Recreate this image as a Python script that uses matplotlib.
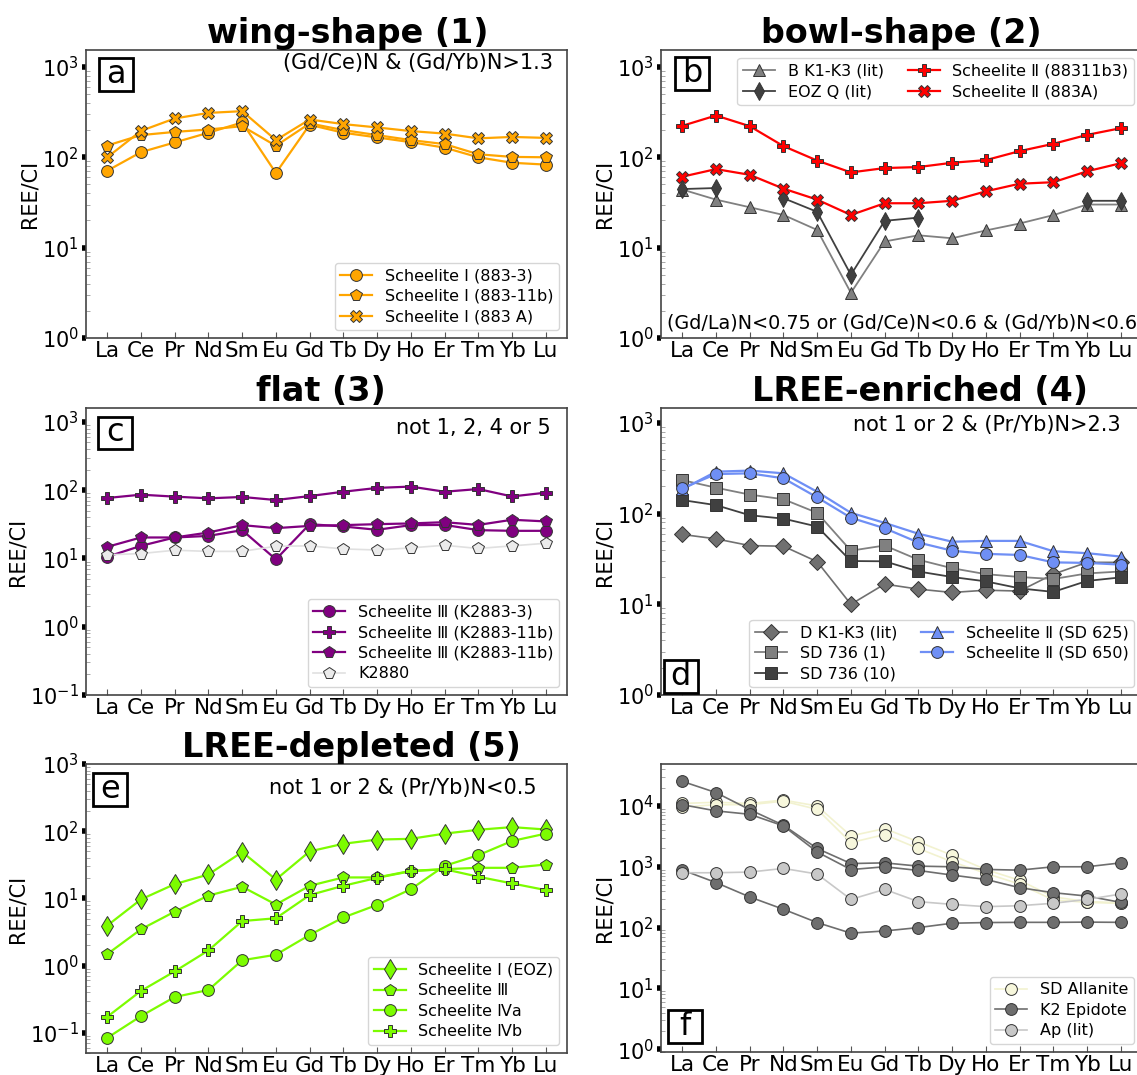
import numpy as np
import matplotlib.pyplot as plt
from matplotlib.patches import Rectangle

nan = np.nan
ree = ['La', 'Ce', 'Pr', 'Nd', 'Sm', 'Eu', 'Gd', 'Tb', 'Dy', 'Ho', 'Er', 'Tm', 'Yb', 'Lu']
x = np.arange(len(ree))

# (a) wing-shape
sch1_883_3 = [71, 114, 146, 187, 243, 67, 229, 187, 166, 147, 128, 100, 87, 83]
sch1_883_11b = [135, 176, 191, 203, 221, 134, 237, 200, 176, 155, 140, 108, 101, 100]
sch1_883A = [100, 196, 269, 310, 324, 155, 262, 233, 214, 195, 183, 162, 168, 164]

# (b) bowl-shape
b_k1k3 = [44, 34, 28, 23, 15.7, 3.16, 11.7, 13.7, 12.7, 15.5, 18.5, 22.9, 30, 30]
eoz_q = [44.5, 45.7, nan, 35.3, 24.9, 5.0, 19.8, 21.5, nan, nan, nan, nan, 33, 33]
sch2_88311b3 = [223, 290, 221, 133, 92, 68, 76, 78, 87, 93, 117, 141, 177, 210]
sch2_883A = [61, 74, 64, 45, 34, 23, 31, 31, 33, 42, 51, 53, 70, 86]

# (c) flat
sch3_k2883_3 = [10.6, 15.3, 20.3, 21.4, 26, 9.7, 31.8, 29.4, 26.3, 30.8, 31, 26, 25.4, 25.4]
sch3_k2883_11b = [76.9, 86, 80.5, 76, 79.6, 71.8, 82, 95, 108, 113, 95, 104, 81, 92]
sch3_k2883_11b_p = [14.8, 20.3, 20.3, 24, 30.8, 27.8, 30, 30.8, 31.8, 32.6, 34, 31, 36.9, 34.9]
k2880 = [11.3, 11.8, 13.2, 12.7, 12.7, 15.1, 15.3, 13.8, 13.3, 14.3, 15.6, 14, 15.3, 16.7]

# (d) LREE-enriched
d_k1k3 = [58.9, 52.7, 44.4, 43.7, 29.5, 10, 16.7, 14.7, 13.5, 14.3, 14, 21.5, 29, 29]
sd736_1 = [234, 193, 162, 144, 102, 39, 44.5, 31, 25, 21.5, 20, 19, 21.9, 23]
sd736_10 = [141, 124, 96, 88, 72, 30, 29.8, 23, 20, 17.9, 15, 13.7, 18.1, 19.8]
sch2_sd625 = [185, 290, 298, 278, 174, 102, 79, 60, 49, 50, 50, 38.5, 36.6, 33.6]
sch2_sd650 = [190, 273, 278, 245, 151, 90, 69, 48, 39, 36, 35, 29, 28.6, 27.4]

# (e) LREE-depleted
sch1_eoz = [3.94, 9.66, 16.3, 22.7, 49, 19.1, 50, 65, 75, 77, 92, 105, 115, 106]
sch3_e = [1.48, 3.47, 6.35, 11, 14.9, 8.1, 15.4, 20.5, 20.5, 25.7, 27.2, 28.5, 28.5, 31.9]
sch4a = [0.084, 0.177, 0.341, 0.433, 1.2, 1.45, 2.86, 5.2, 8.0, 13.7, 30.5, 43.9, 71.5, 92]
sch4b = [0.173, 0.42, 0.82, 1.68, 4.6, 5.06, 11.2, 15.4, 20.2, 25.4, 27.2, 21, 16.7, 13.3]

# (f) other minerals
allanite_1 = [11000, 11500, 11000, 12500, 10000, 3220, 4250, 2570, 1550, 900, 600, 320, 267, 257]
allanite_2 = [9600, 10500, 10500, 12000, 8800, 2500, 3390, 2000, 1210, 780, 520, 285, 260, 250]
epidote_1 = [25400, 16600, 8700, 4820, 2000, 1130, 1160, 1025, 1000, 905, 880, 1000, 1000, 1160]
epidote_2 = [10500, 8300, 7300, 4700, 1750, 900, 1000, 870, 730, 620, 453, 375, 330, 260]
epidote_3 = [887, 550, 319, 200, 121, 81, 88, 100, 118, 121, 122, 122, 123, 122]
apatite = [798, 798, 818, 940, 760, 291, 425, 267, 241, 221, 229, 251, 291, 356]

W, H = 1137, 1075
fig = plt.figure(figsize=(W / 100, H / 100), dpi=100)


def new_ax(left, top, w=481, h=288):
    return fig.add_axes([left / W, 1 - (top + h) / H, w / W, h / H])


def style(ax, ylim):
    ax.set_yscale('log')
    ax.set_ylim(*ylim)
    ax.set_xlim(-0.63, 13.63)
    ax.set_xticks(x)
    ax.set_xticklabels(ree)
    ax.tick_params(axis='x', direction='in', length=4, color='#555555', labelsize=15.5, pad=2)
    ax.tick_params(axis='y', which='major', direction='out', length=3, width=4,
                   color='black', labelsize=15, pad=2)
    ax.tick_params(axis='y', which='minor', direction='in', length=3, width=0.6, color='#999999')
    for s in ax.spines.values():
        s.set_color('#444444')
        s.set_linewidth(1.2)
    ax.set_ylabel('REE/CI', fontsize=15, labelpad=2)


def letter(ax, s, cx, cy):
    w, h = 34 / 481, 33 / 288
    ax.add_patch(Rectangle((cx - w / 2, cy - h / 2), w, h, transform=ax.transAxes,
                           facecolor='white', edgecolor='black', lw=2, zorder=5))
    ax.text(cx, cy, s, transform=ax.transAxes, fontsize=23, ha='center', va='center', zorder=6)


def crit(ax, s, xr, y, size=15):
    ax.text(xr, y, s, transform=ax.transAxes, fontsize=size, ha='right', va='center')


leg_kw = dict(fontsize=11.5, labelspacing=0.35, borderpad=0.35)
ec = '#333333'

# ---------- a ----------
ax = new_ax(86, 50)
c = '#FFA500'
ax.plot(x, sch1_883_3, '-o', color=c, mec=ec, mew=0.7, ms=8.5, lw=1.6, label='Scheelite Ⅰ (883-3)')
ax.plot(x, sch1_883_11b, '-p', color=c, mec=ec, mew=0.7, ms=8.5, lw=1.6, label='Scheelite Ⅰ (883-11b)')
ax.plot(x, sch1_883A, '-X', color=c, mec=ec, mew=0.7, ms=8.5, lw=1.6, label='Scheelite Ⅰ (883 A)')
style(ax, (1, 1540))
ax.set_title('wing-shape (1)', fontsize=24, fontweight='bold', x=0.545, pad=5)
letter(ax, 'a', 0.062, 0.915)
crit(ax, '(Gd/Ce)N & (Gd/Yb)N>1.3', 0.971, 0.955)
ax.legend(loc='lower right', **leg_kw)

# ---------- b ----------
ax = new_ax(661, 50)
ax.plot(x, b_k1k3, '-^', color='#808080', mec=ec, mew=0.7, ms=8.5, lw=1.3, label='B K1-K3 (lit)')
ax.plot(x, eoz_q, '-d', color='#404040', mec=ec, mew=0.7, ms=9, lw=1.3, label='EOZ Q (lit)')
ax.plot(x, sch2_88311b3, '-P', color='red', mec=ec, mew=0.7, ms=8.5, lw=1.6, label='Scheelite Ⅱ (88311b3)')
ax.plot(x, sch2_883A, '-X', color='red', mec=ec, mew=0.7, ms=8.5, lw=1.6, label='Scheelite Ⅱ (883A)')
style(ax, (1, 1540))
ax.set_title('bowl-shape (2)', fontsize=24, fontweight='bold', x=0.50, pad=5)
letter(ax, 'b', 0.064, 0.92)
crit(ax, '(Gd/La)N<0.75 or (Gd/Ce)N<0.6 & (Gd/Yb)N<0.6', 0.99, 0.052, size=13.8)
ax.legend(loc='upper right', ncol=2, columnspacing=1.5, **leg_kw)

# ---------- c ----------
ax = new_ax(86, 408, h=287)
c = '#800080'
ax.plot(x, sch3_k2883_3, '-o', color=c, mec=ec, mew=0.7, ms=8.5, lw=1.6, label='Scheelite Ⅲ (K2883-3)')
ax.plot(x, sch3_k2883_11b, '-P', color=c, mec=ec, mew=0.7, ms=8.5, lw=1.6, label='Scheelite Ⅲ (K2883-11b)')
ax.plot(x, sch3_k2883_11b_p, '-p', color=c, mec=ec, mew=0.7, ms=8.5, lw=1.6, label='Scheelite Ⅲ (K2883-11b)')
ax.plot(x, k2880, '-p', color='#e0e0e0', mfc='#ebebeb', mec=ec, mew=0.7, ms=8.5, lw=1.2, label='K2880')
style(ax, (0.1, 1600))
ax.set_title('flat (3)', fontsize=24, fontweight='bold', x=0.489, pad=5)
letter(ax, 'c', 0.06, 0.913)
crit(ax, 'not 1, 2, 4 or 5', 0.967, 0.93)
ax.legend(loc='lower right', **leg_kw)

# ---------- d ----------
ax = new_ax(661, 408, h=287)
blue = '#6f8ff5'
ax.plot(x, d_k1k3, '-D', color='#707070', mec=ec, mew=0.7, ms=8, lw=1.2, label='D K1-K3 (lit)')
ax.plot(x, sd736_1, '-s', color='#808080', mec=ec, mew=0.7, ms=8.5, lw=1.3, label='SD 736 (1)')
ax.plot(x, sd736_10, '-s', color='#404040', mec=ec, mew=0.7, ms=8.5, lw=1.3, label='SD 736 (10)')
ax.plot(x, sch2_sd625, '-^', color=blue, mec=ec, mew=0.7, ms=8.5, lw=1.6, label='Scheelite Ⅱ (SD 625)')
ax.plot(x, sch2_sd650, '-o', color=blue, mec=ec, mew=0.7, ms=8.5, lw=1.6, label='Scheelite Ⅱ (SD 650)')
style(ax, (1, 1460))
ax.set_title('LREE-enriched (4)', fontsize=24, fontweight='bold', x=0.538, pad=5)
letter(ax, 'd', 0.041, 0.064)
crit(ax, 'not 1 or 2 & (Pr/Yb)N>2.3', 0.956, 0.941)
ax.legend(loc='lower right', ncol=2, columnspacing=1.5, **leg_kw)

# ---------- e ----------
ax = new_ax(86, 764, h=289)
g = '#7CFC00'
ax.plot(x, sch1_eoz, '-d', color=g, mec=ec, mew=0.7, ms=10, lw=1.6, label='Scheelite Ⅰ (EOZ)')
ax.plot(x, sch3_e, '-p', color=g, mec=ec, mew=0.7, ms=8.5, lw=1.6, label='Scheelite Ⅲ')
ax.plot(x, sch4a, '-o', color=g, mec=ec, mew=0.7, ms=8.5, lw=1.6, label='Scheelite Ⅳa')
ax.plot(x, sch4b, '-P', color=g, mec=ec, mew=0.7, ms=8.5, lw=1.6, label='Scheelite Ⅳb')
style(ax, (0.05, 1000))
ax.set_title('LREE-depleted (5)', fontsize=24, fontweight='bold', x=0.551, pad=5)
letter(ax, 'e', 0.05, 0.913)
crit(ax, 'not 1 or 2 & (Pr/Yb)N<0.5', 0.936, 0.917)
ax.legend(loc='lower right', **leg_kw)

# ---------- f ----------
ax = new_ax(661, 764, h=288)
for i, vals in enumerate([allanite_1, allanite_2]):
    ax.plot(x, vals, '-o', color='#f2f2d0', mfc='#f7f7dc', mec=ec, mew=0.7, ms=8.5, lw=1.2,
            label='SD Allanite' if i == 0 else None)
for i, vals in enumerate([epidote_1, epidote_2, epidote_3]):
    ax.plot(x, vals, '-o', color='#6e6e6e', mec=ec, mew=0.7, ms=8.5, lw=1.2,
            label='K2 Epidote' if i == 0 else None)
ax.plot(x, apatite, '-o', color='#c8c8c8', mec=ec, mew=0.7, ms=8.5, lw=1.2, label='Ap (lit)')
style(ax, (0.9, 49000))
letter(ax, 'f', 0.05, 0.089)
ax.legend(loc='lower right', **leg_kw)

fig.savefig('out.png', dpi=100)
